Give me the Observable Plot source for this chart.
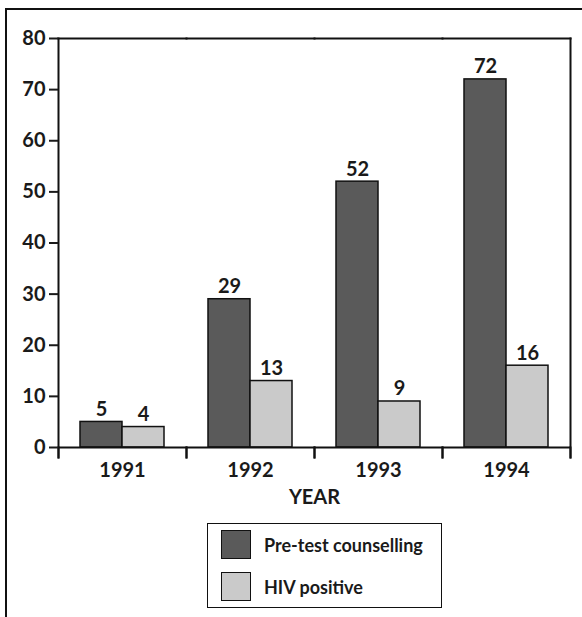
<!DOCTYPE html>
<html>
<head>
<meta charset="utf-8">
<script src="https://cdn.jsdelivr.net/npm/d3@7"></script>
<script src="https://cdn.jsdelivr.net/npm/@observablehq/plot@0.6"></script>
<style>
  html, body { margin: 0; padding: 0; background: #fff; }
  #wrap { position: relative; width: 582px; height: 617px; overflow: hidden; font-family: Lato, "DejaVu Sans", sans-serif; }
  #outer { position: absolute; left: 5px; top: 8px; width: 600px; height: 640px; border-left: 2px solid #111; border-top: 2px solid #111; }
  #chart { position: absolute; left: 0; top: 0; }
  #legend { position: absolute; left: 207px; top: 523px; width: 233px; height: 83px; border: 1.5px solid #111; background: #fff; }
  .item { position: absolute; left: 13px; display: flex; align-items: center; }
  .sw { width: 28px; height: 27px; border: 1.5px solid #111; }
  .lab { margin-left: 13px; font-size: 18px; font-weight: 700; color: #1a1a1a; }
</style>
</head>
<body>
<div id="wrap">
  <div id="outer"></div>
  <div id="chart"></div>
  <div id="legend"></div>
</div>
<script>
const years = ["1991", "1992", "1993", "1994"];
const series = ["Pre-test counselling", "HIV positive"];
const preTest = [5, 29, 52, 72];
const hivPositive = [4, 13, 9, 16];
const yTicks = [0, 10, 20, 30, 40, 50, 60, 70, 80];
const colors = ["#5a5a5a", "#cacaca"];

const data = [];
years.forEach((yr, i) => {
  data.push({year: yr, series: series[0], value: preTest[i]});
  data.push({year: yr, series: series[1], value: hivPositive[i]});
});

const W = 582, H = 515, mT = 38, mB = 68, mL = 57, mR = 11;
const plotH = H - mT - mB;

const chart = Plot.plot({
  width: W,
  height: H,
  marginTop: mT,
  marginBottom: mB,
  marginLeft: mL,
  marginRight: mR,
  style: {fontFamily: "Lato, 'DejaVu Sans', sans-serif", fontWeight: "bold", fontSize: "20px", color: "#1a1a1a", background: "transparent"},
  fx: {domain: years, padding: 0},
  x: {domain: series, paddingInner: 0, paddingOuter: 0.49, axis: null},
  y: {domain: [0, 80]},
  color: {domain: series, range: colors},
  marks: [
    Plot.barY(data, {fx: "year", x: "series", y: "value", fill: "series", stroke: "#111", strokeWidth: 1.5}),
    Plot.text(data, {fx: "year", x: "series", y: "value", text: d => String(d.value), lineAnchor: "bottom", dy: -6, fontSize: 20, fontWeight: "bold", fill: "#1a1a1a"}),
    Plot.ruleY([0], {stroke: "#111", strokeWidth: 2}),
    Plot.frame({anchor: "top", stroke: "#111", strokeWidth: 2}),
    Plot.frame({anchor: "left", insetTop: plotH, insetBottom: -10, stroke: "#111", strokeWidth: 2}),
    Plot.frame({anchor: "right", insetTop: plotH, insetBottom: -10, stroke: "#111", strokeWidth: 2}),
    Plot.frame({facet: "super", anchor: "left", insetBottom: -10, stroke: "#111", strokeWidth: 2}),
    Plot.frame({facet: "super", anchor: "right", insetBottom: -10, stroke: "#111", strokeWidth: 2}),
    Plot.axisY({ticks: yTicks, tickSize: 9, tickPadding: 4, tickFormat: d => String(d), fontSize: 20, fontWeight: "bold", label: null, strokeWidth: 2}),
    Plot.axisFx({anchor: "bottom", tickSize: 0, tickPadding: 15, fontSize: 20, fontWeight: "bold", label: "YEAR", labelAnchor: "center", labelArrow: "none", labelOffset: 56})
  ]
});
document.getElementById("chart").appendChild(chart);

const legend = document.getElementById("legend");
series.forEach((s, i) => {
  const item = document.createElement("div");
  item.className = "item";
  item.style.top = (6 + i * 42) + "px";
  const sw = document.createElement("div");
  sw.className = "sw";
  sw.style.background = colors[i];
  const lab = document.createElement("span");
  lab.className = "lab";
  lab.textContent = s;
  item.appendChild(sw);
  item.appendChild(lab);
  legend.appendChild(item);
});
</script>
</body>
</html>
